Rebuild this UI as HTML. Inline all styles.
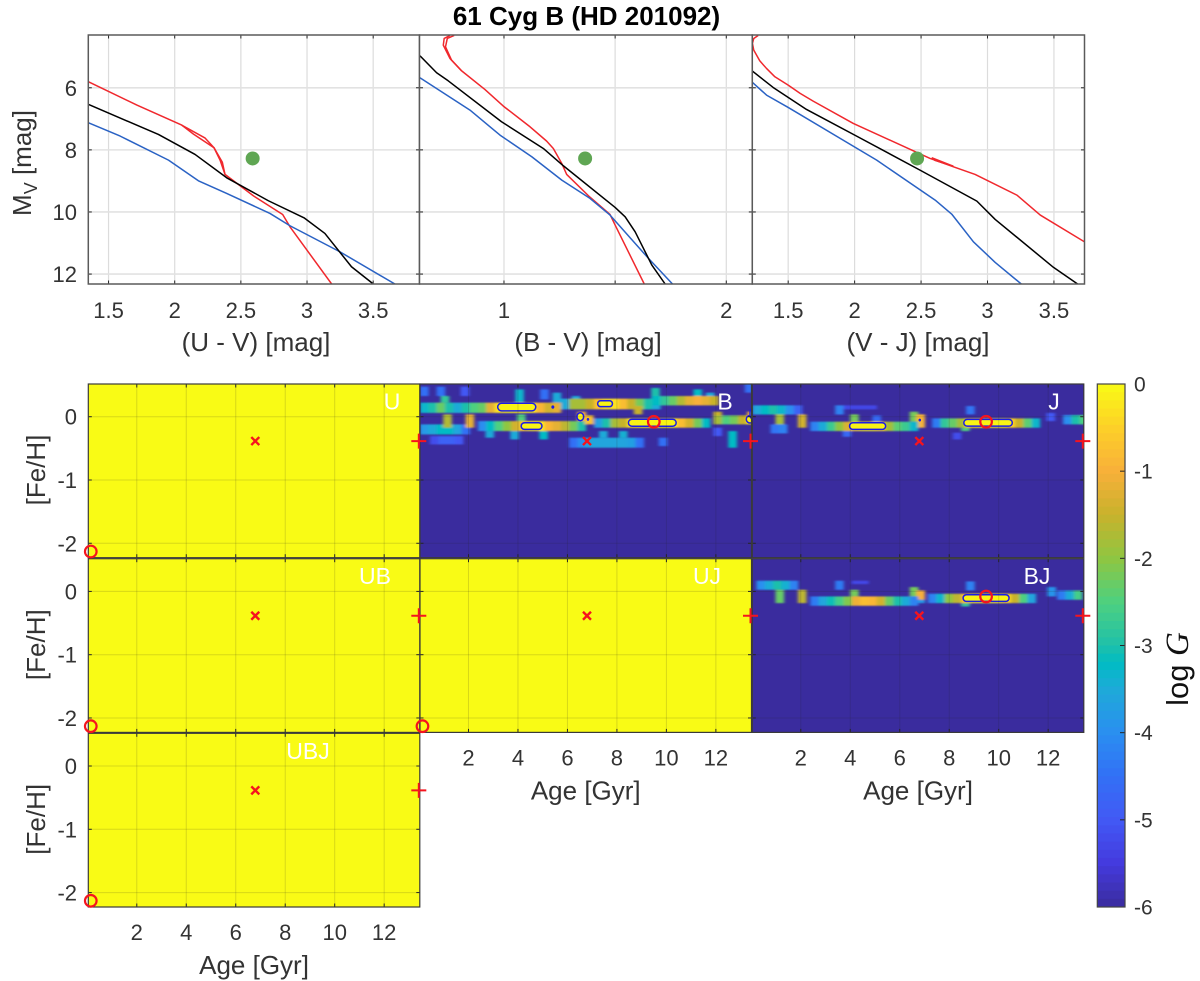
<!DOCTYPE html>
<html lang="en">
<head>
<meta charset="utf-8">
<title>61 Cyg B (HD 201092)</title>
<style>
html,body{margin:0;padding:0;background:#fff;}
svg{display:block;font-family:"Liberation Sans",sans-serif;}
</style>
</head>
<body>
<svg id="fig" xmlns="http://www.w3.org/2000/svg" width="1200" height="981" viewBox="0 0 1200 981">
<defs>
<filter id="soft" x="-5%" y="-5%" width="110%" height="110%"><feGaussianBlur stdDeviation="1.5 0.8"/></filter>
</defs>
<rect x="0" y="0" width="1200" height="981" fill="#fff"/>
<text x="586.5" y="25" font-size="26" font-weight="bold" text-anchor="middle" fill="#000">61 Cyg B (HD 201092)</text>
</svg>
<script>
// ---------- colour-magnitude data ----------
const uvRedX=[1.349,1.714,2.053,2.142,2.297,2.343,2.38,2.494,2.594,2.816,2.871,3.186];
const uvRedY=[5.807,6.558,7.202,7.492,7.932,8.33,8.79,9.156,9.478,10.08,10.477,12.32];
const uvRed2X=[2.053,2.23,2.297,2.36,2.38];
const uvRed2Y=[7.202,7.62,7.932,8.4,8.79];
const uvBlackX=[1.349,1.877,2.154,2.393,2.708,2.977,3.135,3.336,3.495];
const uvBlackY=[6.537,7.503,8.147,8.899,9.639,10.187,10.691,11.765,12.3];
const uvBlueX=[1.349,1.588,1.953,2.179,2.393,2.72,2.871,3.248,3.664];
const uvBlueY=[7.127,7.557,8.33,8.995,9.403,10.047,10.444,11.282,12.32];
const bvRedX=[0.776,0.745,0.737,0.764,0.809,0.914,0.997,1.117,1.192,1.222,1.26,1.282,1.38,1.477,1.5,1.631];
const bvRedY=[4.315,4.411,4.68,5.109,5.452,6.054,6.59,7.256,7.718,7.954,8.437,8.791,9.478,10.08,10.423,12.32];
const bvRed2X=[0.757,0.731,0.727,0.757,0.809];
const bvRed2Y=[4.315,4.411,4.626,5.055,5.452];
const bvBlackX=[0.622,0.697,0.749,0.989,1.177,1.267,1.5,1.545,1.59,1.665,1.725];
const bvBlackY=[4.97,5.517,5.775,7.095,7.954,8.512,9.854,10.155,10.638,11.711,12.32];
const bvBlueX=[0.622,0.847,0.982,1.125,1.26,1.387,1.477,1.65,1.758];
const bvBlueY=[5.678,6.719,7.524,8.222,8.974,9.564,10.1,11.496,12.32];
const vjRedX=[1.274,1.241,1.231,1.241,1.286,1.337,1.4,1.5,1.59,1.688,1.99,2.442,2.568,2.744,2.907,3.221,3.397,3.729];
const vjRedY=[4.315,4.411,4.572,4.787,5.13,5.377,5.646,5.914,6.18,6.43,7.149,8.03,8.276,8.544,8.791,9.457,10.1,10.96];
const vjRed2X=[2.58,2.74,2.6];
const vjRed2Y=[8.25,8.52,8.33];
const vjBlackX=[1.231,1.387,1.638,2.015,2.492,2.92,3.058,3.497,3.678];
const vjBlackY=[5.463,5.989,6.698,7.557,8.652,9.65,10.24,11.786,12.32];
const vjBlueX=[1.231,1.337,1.5,2.166,2.606,2.731,2.894,3.058,3.254];
const vjBlueY=[5.828,6.236,6.633,8.33,9.618,10.07,10.96,11.625,12.32];
const starMv=8.276;
const starUV=2.589;
const starBV=1.365;
const starVJ=2.47;
const uvTicks=[1.5,2,2.5,3,3.5];
const bvTicks=[1,1.5,2];
const bvTickLabels=['1','','2'];
const vjTicks=[1.5,2,2.5,3,3.5];
const mvTicks=[6,8,10,12];
const ageTicks=[2,4,6,8,10,12];
const fehTicks=[0,-1,-2];
const cbarTicks=[0,-1,-2,-3,-4,-5,-6];

// ---------- log G maps: each row = [feh top, feh bottom, first age column, values] ----------
const heatB=[
[.475,.327,0,[-4.5]],[.475,.327,2,[-4.5]],[.475,.327,4.9,[-5]],
[.432,.222,11.5,[-3.3]],[.432,.274,14.5,[-4.5]],[.38,.222,16,[-3.5]],[.327,.222,18.3,[-3.5]],
[.455,.222,27.9,[-3]],[.432,.327,33,[-3.2]],[.38,.327,34.5,[-3.5]],[.527,.38,39.2,[-4.5]],
[.327,.222,2.5,[-2.8]],
[-.306,-.438,1.2,[-5.2,-4.8,-4.8,-5.0]],
[-.121,-.28,0,[-3.8,-3.5,-3.2,-3.2,-3.6,-4.5]],
[.222,.06,0,[-3.3,-3.0,-2.3,-3.0,-3.5,-3.0,-2.5,-2.3,-1.2,-0.3,-0.1,-0.1,-0.1,-0.2,-0.9,-1.4,-1.2]],
[.037,-.174,2.8,[-1.7]],[.037,-.174,5.5,[-1.2]],[.037,-.069,11.7,[-2.5]],
[.285,.116,17,[-3.5,-1.8,-1.8,-1.5,-0.7,-0.3,-0.3,-0.8,-1.5,-2.2,-3,-3.5]],
[.327,.179,28,[-3.2,-2.8,-2.3,-1.7,-1.2,-1.0,-1.2,-1.5]],
[.169,.037,25.8,[-1.5]],
[-.227,-.332,7.9,[-3.5]],[-.227,-.359,10.9,[-3.5]],[-.227,-.359,14.4,[-3.2]],
[-.069,-.227,7,[-4,-3.2,-2.5,-2,-1.4,-.6,-.2,-.2,-.9,-1.2,-1.6,-2.2,-3.0]],
[.079,-.069,19,[-1.0]],[.021,-.121,19.9,[-0.7]],
[-.332,-.49,18,[-4.5,-4,-3.6,-3.6,-3.6,-3.6,-3.6,-3.7,-4.5]],
[-.227,-.332,21.6,[-3.5]],[-.227,-.332,24,[-3.4]],[-.332,-.464,28.8,[-4.5]],
[-.026,-.174,21,[-3.7,-3,-1.8,-1.5,-.3,-.1,-.1,-.1,-.1,-.1,-.8,-1.4,-2.2,-3.2]],
[.079,-.069,35.4,[-1.5]],
[.021,-.121,35.4,[-1.8,-2.5,-2.2,-1.5,-0.2]],
[.08,-.03,39.5,[-0.9]],
[-.227,-.49,37.2,[-3.2]],[-.174,-.306,35.4,[-5]]
];
const heatJ=[
[.18,.035,0,[-3.6,-3.2,-3.0,-3.3,-4,-4.8]],
[.18,.035,10,[-4.2]],[.18,.116,11,[-5.3,-5.3,-5.3,-5.3]],
[.037,-.174,2.8,[-1.8]],[.037,-.174,5.5,[-1.4]],[-.121,-.264,2.2,[-4.4,-4.2]],
[.021,-.079,14.5,[-4.6]],[-.227,-.317,10.9,[-4.7]],
[.037,-.079,11.8,[-2.2]],[.079,-.079,19,[-2.2]],[.037,-.174,19.8,[-0.9]],
[-.079,-.227,7,[-4.2,-3.5,-2.7,-2.0,-1.3,-0.4,-0.1,-0.1,-0.4,-1.8,-2.4,-2.7,-3.3]],
[-.026,-.174,21.7,[-4.3,-2.8,-2.3,-1.8,-.4,-.1,-.1,-.1,-.1,-.5,-1.5,-2.4,-3.3]],
[-.174,-.227,25.2,[-2.5]],[.169,.037,25.8,[-4.4]],
[.06,-.069,35.5,[-5]],[-.253,-.359,24.2,[-5.2]],
[.026,-.121,37.5,[-4,-3,-2.5]]
];
const heatBJ=[
[.169,.026,0.5,[-4,-3.5,-3.0,-3.4,-4.2]],
[.169,.026,10,[-4.3]],[.169,.116,12,[-5.3,-5.3]],
[.026,-.185,2.8,[-2.3]],[.026,-.185,5.5,[-1.6]],
[.026,-.079,11.8,[-2.2]],[.069,-.079,19,[-2.2]],
[.016,-.132,19.8,[-1.0]],[-.132,-.185,19.8,[-3.8]],
[-.079,-.227,7,[-4.3,-3.6,-3.1,-2.6,-2.1,-1.1,-0.8,-0.9,-1.4,-2.3,-3.0,-3.5,-4.2]],
[-.037,-.185,21.2,[-4.2,-3.3,-2,-1.6,-.8,-.1,-.1,-.1,-.1,-.4,-1.5,-2.5,-3.6]],
[-.185,-.238,25.2,[-2.8]],[.158,.016,25.8,[-4.2]],
[.069,-.079,35.6,[-3.9]],
[.016,-.132,36.8,[-4.3,-3.5,-2.6]]
];
// contours: [age, feh, half-width in Gyr, half-height in dex]
const contoursB=[[3.95,.153,.77,.06],[4.55,-.148,.42,.053],[7.52,.206,.3,.047],[9.43,-.095,.965,.055],[6.52,0,.135,.063],[5.41,.153,.03,.015],[6.83,-.042,.02,.01],[13.38,-.04,.15,.06],[13.42,.05,.04,.07]];
const contoursJ=[[4.7,-.148,.73,.053],[9.57,-.095,.98,.053],[6.81,-.053,.02,.01]];
const contoursBJ=[[9.49,-.105,.93,.053]];
const fitAge=9.49;
const fitFeh=-0.08;
const youngAge=0.14;
const youngFeh=-2.13;
const crossAge=6.79;
const crossFeh=-0.385;
const plusAge=13.4;
const plusFeh=-0.385;

// parula-like colour stops taken from the colour bar: [log G, r, g, b]
const cmapLevels=[-6,-5.5,-5,-4.5,-4,-3.5,-3.2,-3,-2.5,-2,-1.5,-1,-0.5,0];
const cmapR=[58,68,66,50,42,30,0,30,78,143,200,248,253,249];
const cmapG=[44,58,89,112,143,170,188,192,208,198,178,176,208,251];
const cmapB=[158,222,245,245,240,216,196,170,127,65,44,58,40,21];

const svg=document.getElementById('fig');
const NS='http://www.w3.org/2000/svg';
function make(tag,attrs,parent){
  const el=document.createElementNS(NS,tag);
  for(const k in attrs){el.setAttribute(k,attrs[k]);}
  (parent||svg).appendChild(el);
  return el;
}
function named(el,name){
  
  
  return el;
}
function color(v){
  if(v>=0)return 'rgb(249,251,21)';
  if(v<=-6)return 'rgb(58,44,158)';
  let i=0;
  while(cmapLevels[i+1]<v)i++;
  const t=(v-cmapLevels[i])/(cmapLevels[i+1]-cmapLevels[i]);
  const c=a=>Math.round(a[i]+(a[i+1]-a[i])*t);
  return 'rgb('+c(cmapR)+','+c(cmapG)+','+c(cmapB)+')';
}
function scale(d0,d1,p0,p1){return v=>p0+(v-d0)/(d1-d0)*(p1-p0);}
let clipId=0;
function clipFor(x,y,w,h){
  clipId++;
  const cp=make('clipPath',{id:'clip'+clipId},svg.querySelector('defs'));
  make('rect',{x:x,y:y,width:w,height:h},cp);
  return 'url(#clip'+clipId+')';
}
const tickCol='#262626';
const textCol='#333';
function label(txt,x,y,size,anchor,name,fill){
  const t=make('text',{x:x,y:y,'font-size':size,'text-anchor':anchor,fill:fill||textCol});
  named(t,name);
  t.textContent=txt;
  return t;
}
function box(x,y,w,h,name,col,sw){
  const r=make('rect',{x:x,y:y,width:w,height:h,fill:'none',stroke:col,'stroke-width':sw});
  named(r,name);
}
function vline(g,x,y0,y1,col,sw,name){
  const l=make('line',{x1:x,x2:x,y1:y0,y2:y1,stroke:col,'stroke-width':sw},g);
  named(l,name);
}
function hline(g,y,x0,x1,col,sw,name){
  const l=make('line',{x1:x0,x2:x1,y1:y,y2:y,stroke:col,'stroke-width':sw},g);
  named(l,name);
}

// ---------- top row: colour-magnitude panels ----------
const cmdTop=35,cmdBottom=284,mvMin=4.3,mvMax=12.32;
const yMv=scale(mvMin,mvMax,cmdTop,cmdBottom);
function cmdPanel(key,left,right,xMin,xMax,ticks,tickLabels,curves,starX,xTitle,titleX,showY){
  const g=make('g',{});
  named(g,key+'-cmd-panel');
  const x=scale(xMin,xMax,left,right);
  make('rect',{x:left,y:cmdTop,width:right-left,height:cmdBottom-cmdTop,fill:'#fff'},g);
  ticks.forEach(t=>vline(g,x(t),cmdTop,cmdBottom,'#dcdcdc',1.2,key+'-x-gridline'));
  mvTicks.forEach(t=>hline(g,yMv(t),left,right,'#e2e2e2',1.6,key+'-y-gridline'));
  const clip=clipFor(left,cmdTop,right-left,cmdBottom-cmdTop);
  const cg=make('g',{'clip-path':clip},g);
  named(cg,key+'-series');
  curves.forEach(c=>{
    const pts=c.x.map((v,i)=>x(v).toFixed(2)+','+yMv(c.y[i]).toFixed(2)).join(' ');
    const p=make('polyline',{points:pts,fill:'none',stroke:c.col,'stroke-width':1.5,'stroke-linejoin':'round'},cg);
    named(p,key+'-'+c.name+'-isochrone');
  });
  const dot=make('circle',{cx:x(starX),cy:yMv(starMv),r:7,fill:'#5fa653'},g);
  named(dot,key+'-star-point');
  ticks.forEach((t,i)=>{
    vline(g,x(t),cmdTop,cmdTop+3.5,tickCol,1,key+'-x-tick-top');
    vline(g,x(t),cmdBottom-3.5,cmdBottom,tickCol,1,key+'-x-tick-bottom');
    if(tickLabels[i]!=='')label(tickLabels[i],x(t),318,22,'middle',key+'-x-tick-label');
  });
  mvTicks.forEach(t=>{
    hline(g,yMv(t),left,left+3.5,tickCol,1,key+'-y-tick-left');
    hline(g,yMv(t),right-3.5,right,tickCol,1,key+'-y-tick-right');
    if(showY)label(String(t),77,yMv(t)+8,22,'end',key+'-y-tick-label');
  });
  box(left,cmdTop,right-left,cmdBottom-cmdTop,key+'-axes-box','#5a5a5a',1.5);
  label(xTitle,titleX,351,26,'middle',key+'-x-axis-title');
}
cmdPanel('uv',88.3,419.5,1.347,3.85,uvTicks,['1.5','2','2.5','3','3.5'],[
  {name:'red2',x:uvRed2X,y:uvRed2Y,col:'#f0282d'},
  {name:'red',x:uvRedX,y:uvRedY,col:'#f0282d'},
  {name:'blue',x:uvBlueX,y:uvBlueY,col:'#2a62c4'},
  {name:'black',x:uvBlackX,y:uvBlackY,col:'#000'}
],starUV,'(U - V) [mag]',256,true);
cmdPanel('bv',419.5,752.3,0.62,2.117,bvTicks,bvTickLabels,[
  {name:'red2',x:bvRed2X,y:bvRed2Y,col:'#f0282d'},
  {name:'red',x:bvRedX,y:bvRedY,col:'#f0282d'},
  {name:'blue',x:bvBlueX,y:bvBlueY,col:'#2a62c4'},
  {name:'black',x:bvBlackX,y:bvBlackY,col:'#000'}
],starBV,'(B - V) [mag]',588,false);
cmdPanel('vj',752.3,1084.5,1.23,3.73,vjTicks,['1.5','2','2.5','3','3.5'],[
  {name:'red2',x:vjRed2X,y:vjRed2Y,col:'#f0282d'},
  {name:'red',x:vjRedX,y:vjRedY,col:'#f0282d'},
  {name:'blue',x:vjBlueX,y:vjBlueY,col:'#2a62c4'},
  {name:'black',x:vjBlackX,y:vjBlackY,col:'#000'}
],starVJ,'(V - J) [mag]',918,false);
const mvTitle=make('text',{transform:'translate(31,163) rotate(-90)','font-size':26,'text-anchor':'middle',fill:textCol});
named(mvTitle,'mv-axis-title');
mvTitle.textContent='M';
const mvSub=make('tspan',{'font-size':18,dy:6},mvTitle);
mvSub.textContent='V';
const mvRest=make('tspan',{dy:-6},mvTitle);
mvRest.textContent=' [mag]';

// ---------- heat-map panels ----------
const ageMin=0.04,ageMax=13.44,fehMin=-2.228,fehMax=0.517,ageStep=0.335;
function heatPanel(key,label2,labelX,left,top,base,rows,contours,circles,showXLabels,showYLabels){
  const w=331.5,h=173.7;
  const g=make('g',{});
  named(g,key+'-map-panel');
  const x=scale(ageMin,ageMax,left,left+w);
  const y=scale(fehMax,fehMin,top,top+h);
  const bg=make('rect',{x:left,y:top,width:w,height:h,fill:color(base)},g);
  named(bg,key+'-map-background');
  const clip=clipFor(left,top,w,h);
  const outer=make('g',{'clip-path':clip},g);
  const cells=make('g',{filter:'url(#soft)'},outer);
  named(cells,key+'-map-cells');
  rows.forEach(r=>{
    const hi=r[0],lo=r[1],first=r[2],vals=r[3];
    vals.forEach((v,i)=>{
      const a0=ageMin+(first+i)*ageStep;
      const cell=make('rect',{x:x(a0),y:y(hi),width:x(a0+ageStep)-x(a0)+.3,height:y(lo)-y(hi),fill:color(v)},cells);
      named(cell,key+'-map-cell');
    });
  });
  contours.forEach(c=>{
    const ry=y(c[1]-c[3])-y(c[1]);
    const rx=x(c[0]+c[2])-x(c[0]);
    const e=make('rect',{x:x(c[0])-rx,y:y(c[1])-ry,width:2*rx,height:2*ry,rx:Math.min(rx,ry),ry:ry,fill:'#f9f414',stroke:'#1c1ce6','stroke-width':1.5},outer);
    named(e,key+'-contour');
  });
  ageTicks.forEach(t=>{
    vline(g,x(t),top,top+h,'rgba(38,38,38,0.16)',1,key+'-x-gridline');
    vline(g,x(t),top,top+3.5,tickCol,1,key+'-x-tick-top');
    vline(g,x(t),top+h-3.5,top+h,tickCol,1,key+'-x-tick-bottom');
    if(showXLabels)label(String(t),x(t),top+h+33,22,'middle',key+'-x-tick-label');
  });
  fehTicks.forEach(t=>{
    hline(g,y(t),left,left+w,'rgba(38,38,38,0.16)',1,key+'-y-gridline');
    hline(g,y(t),left,left+3.5,tickCol,1,key+'-y-tick-left');
    hline(g,y(t),left+w-3.5,left+w,tickCol,1,key+'-y-tick-right');
    if(showYLabels)label(String(t),77,y(t)+8,22,'end',key+'-y-tick-label');
  });
  box(left,top,w,h,key+'-axes-box','#3a3a3a',1.2);
  label(label2,labelX,top+25.5,23,'middle',key+'-panel-label','#fff');
  if(showXLabels)label('Age [Gyr]',left+w/2,top+h+67,26,'middle',key+'-x-axis-title');
  if(showYLabels){
    const t=make('text',{transform:'translate(45,'+(top+86)+') rotate(-90)','font-size':26,'text-anchor':'middle',fill:textCol});
    named(t,key+'-y-axis-title');
    t.textContent='[Fe/H]';
  }
  return {x,y};
}
function markers(key,s,circle){
  const g=make('g',{fill:'none',stroke:'#f5141e'});
  named(g,key+'-markers');
  const cx=s.x(crossAge),cy=s.y(crossFeh);
  const m=make('path',{d:'M'+(cx-4)+' '+(cy-4)+'L'+(cx+4)+' '+(cy+4)+'M'+(cx-4)+' '+(cy+4)+'L'+(cx+4)+' '+(cy-4),'stroke-width':2.4},g);
  named(m,key+'-cross-marker');
  const px=s.x(plusAge),py=s.y(plusFeh);
  const p=make('path',{d:'M'+(px-7.5)+' '+py+'H'+(px+7.5)+'M'+px+' '+(py-7.5)+'V'+(py+7.5),'stroke-width':2},g);
  named(p,key+'-plus-marker');
  const c=make('circle',{cx:s.x(circle[0]),cy:s.y(circle[1]),r:5.8,'stroke-width':2.2},g);
  named(c,key+'-best-fit-circle');
}
const colX=[88.3,420,752.3];
const rowY=[384,558.7,733.3];
const panels=[
 ['u','U',392,colX[0],rowY[0],0,[],[],[youngAge,youngFeh],false,true],
 ['b','B',725,colX[1],rowY[0],-6,heatB,contoursB,[fitAge,fitFeh],false,false],
 ['j','J',1054,colX[2],rowY[0],-6,heatJ,contoursJ,[fitAge,fitFeh],false,false],
 ['ub','UB',375,colX[0],rowY[1],0,[],[],[youngAge,youngFeh],false,true],
 ['uj','UJ',707,colX[1],rowY[1],0,[],[],[youngAge,youngFeh],true,false],
 ['bj','BJ',1037,colX[2],rowY[1],-6,heatBJ,contoursBJ,[fitAge,fitFeh],true,false],
 ['ubj','UBJ',308,colX[0],rowY[2],0,[],[],[youngAge,youngFeh],true,true]
];
const scales=panels.map(p=>heatPanel(p[0],p[1],p[2],p[3],p[4],p[5],p[6],p[7],p[8],p[9],p[10]));
panels.forEach((p,i)=>markers(p[0],scales[i],p[8]));

// ---------- colour bar ----------
const cbLeft=1097.3,cbRight=1125,cbTop=384,cbBottom=907;
const yBar=scale(0,-6,cbTop,cbBottom);
const cb=make('g',{});
named(cb,'colorbar');
for(let i=0;i<64;i++){
  const v0=-i*6/64,v1=-(i+1)*6/64;
  const seg=make('rect',{x:cbLeft,y:yBar(v0),width:cbRight-cbLeft,height:yBar(v1)-yBar(v0)+.4,fill:color((v0+v1)/2)},cb);
  named(seg,'colorbar-segment');
}
box(cbLeft,cbTop,cbRight-cbLeft,cbBottom-cbTop,'colorbar-box','#444',1.2);
cbarTicks.forEach(t=>{
  if(t!==0&&t!==-6)hline(cb,yBar(t),cbRight-5,cbRight,tickCol,1,'colorbar-tick');
  label(String(t),1134,yBar(t)+7.5,21,'start','colorbar-tick-label');
});
const cbTitle=make('text',{transform:'translate(1188,669) rotate(-90)','font-size':31,'text-anchor':'middle',fill:'#111'});
named(cbTitle,'colorbar-title');
cbTitle.textContent='log ';
const cbG=make('tspan',{'font-family':'"Liberation Serif",serif','font-style':'italic','font-size':33},cbTitle);
cbG.textContent='G';
</script>
</body>
</html>
